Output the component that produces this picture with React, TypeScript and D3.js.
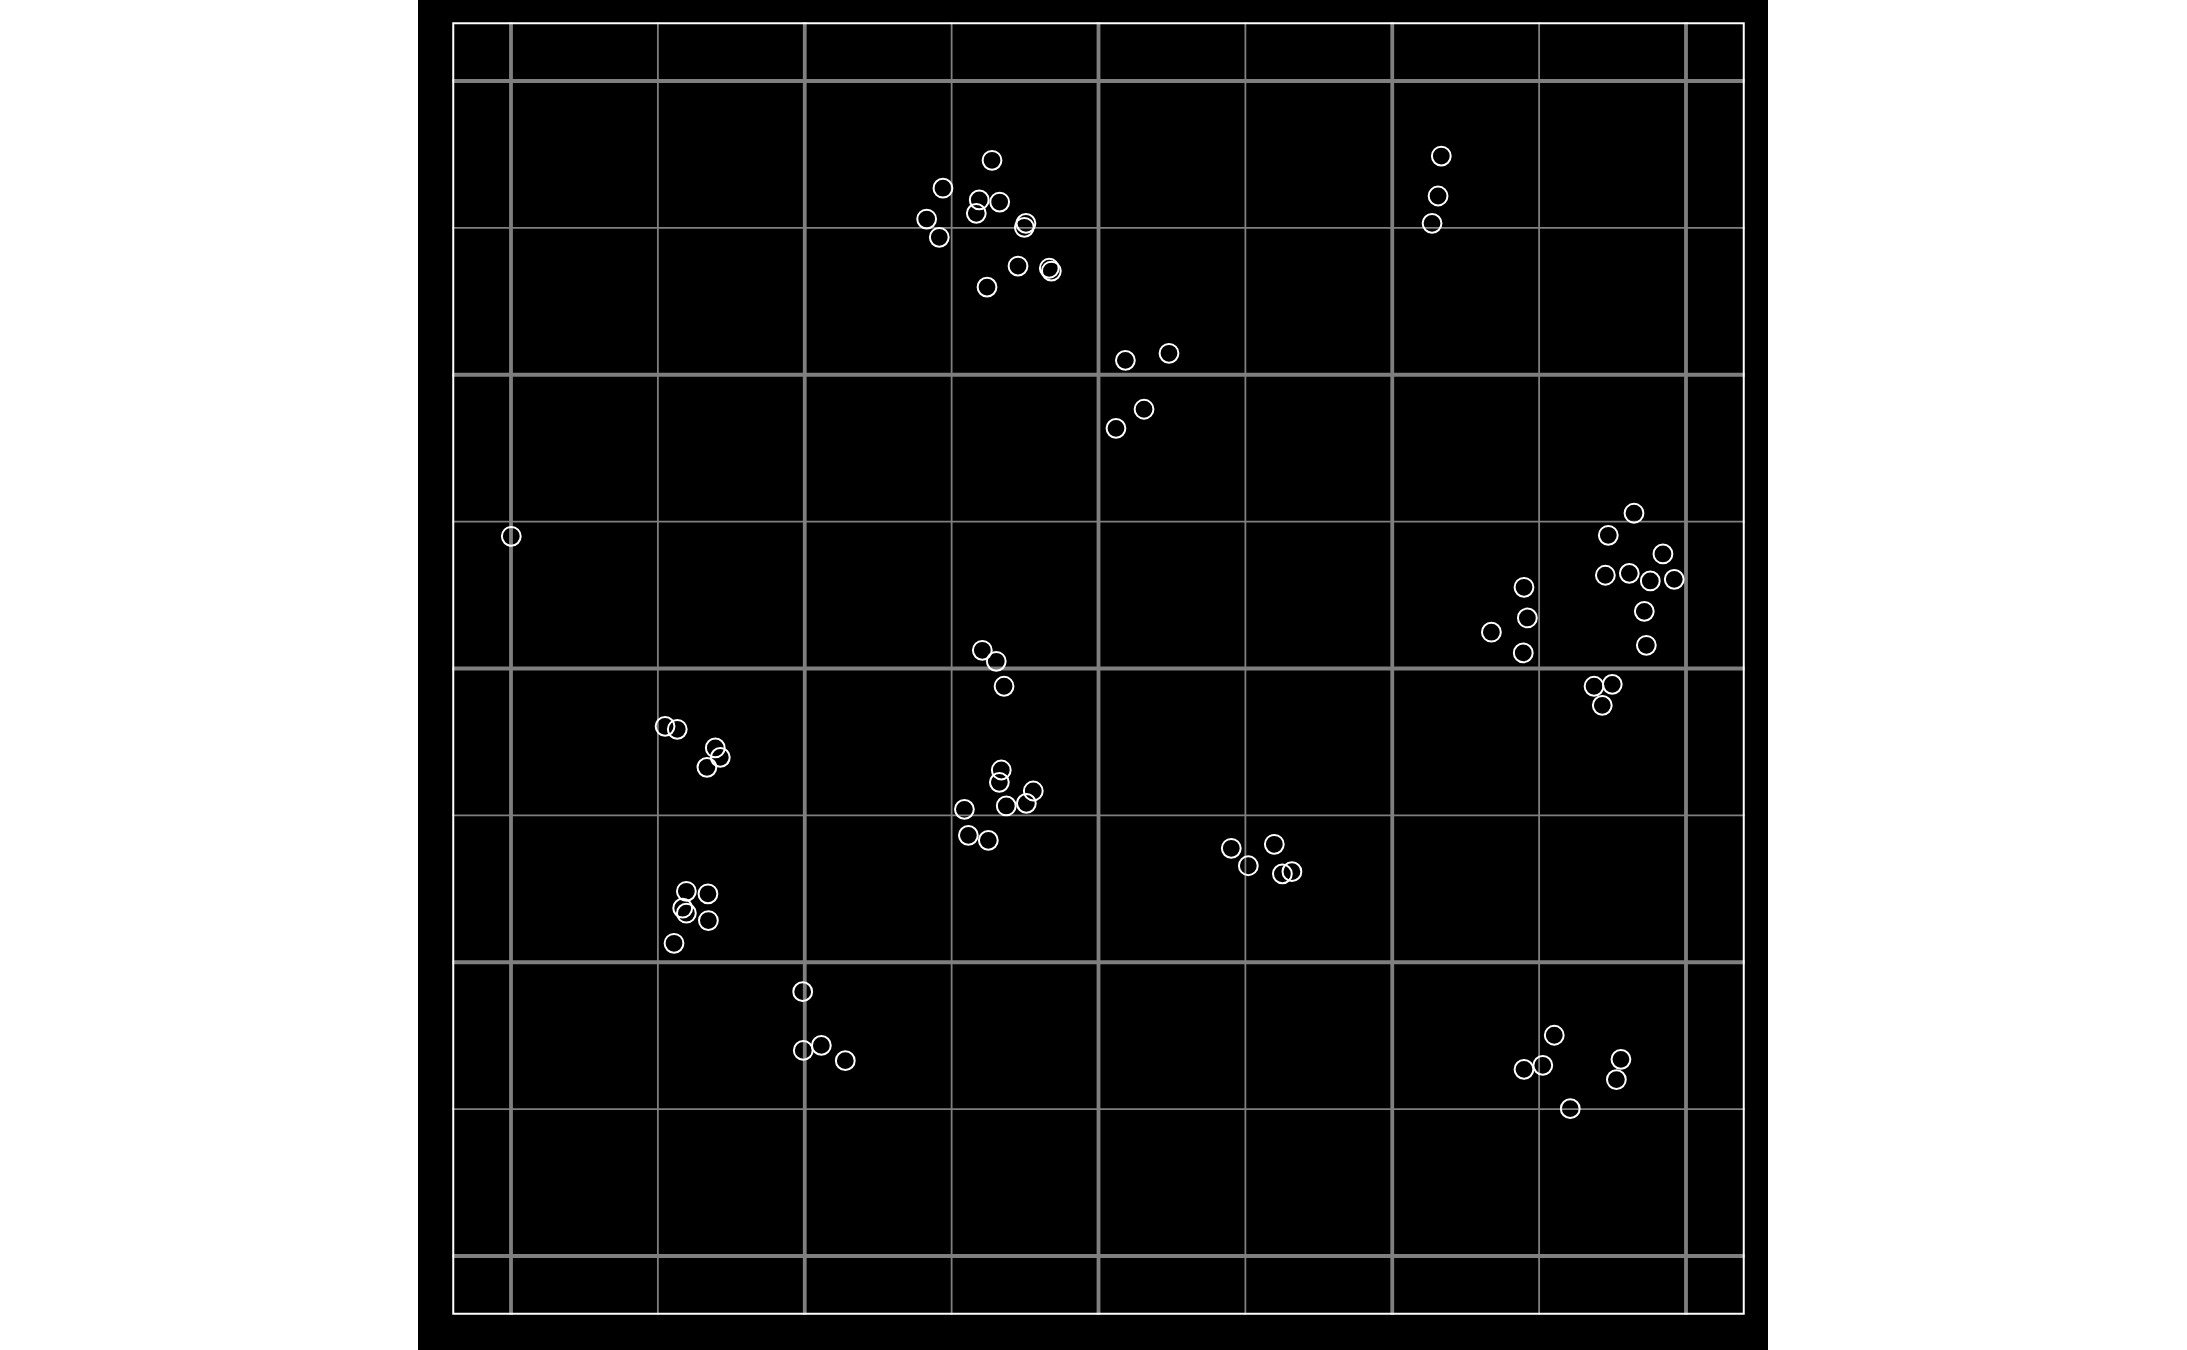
import React from "react";
import * as d3 from "d3";

// point positions (data units, 0..8 on both axes)
const xValues = [
  3.275, 2.941, 3.188, 3.327, 3.168, 2.83, 3.506, 3.495, 2.916, 3.452, 3.665, 3.679, 3.241,
  7.646, 7.471, 7.843, 7.451, 7.614, 7.757, 7.92, 6.897, 6.92, 6.675, 6.892, 7.716, 7.73, 7.374, 7.498, 7.43,
  1.049, 1.132, 1.391, 1.425, 1.334, 1.194, 1.341, 1.169, 1.194, 1.344, 1.11,
  6.334, 6.312, 6.271,
  4.183, 4.48, 4.31, 4.119,
  3.209, 3.304, 3.357,
  3.338, 3.325, 3.556, 3.509, 3.372, 3.087, 3.114, 3.25,
  4.904, 5.197, 5.02, 5.252, 5.317,
  1.986, 1.99, 2.113, 2.276,
  7.103, 7.025, 6.897, 7.557, 7.526, 7.212,
  0.002,
];

const yValues = [
  7.46, 7.27, 7.19, 7.176, 7.099, 7.06, 7.031, 7.004, 6.936, 6.74, 6.725, 6.706, 6.597,
  5.057, 4.907, 4.78, 4.635, 4.648, 4.596, 4.607, 4.553, 4.344, 4.247, 4.106, 4.389, 4.158, 3.879, 3.892, 3.749,
  3.606, 3.586, 3.459, 3.395, 3.327, 2.483, 2.466, 2.368, 2.334, 2.284, 2.129,
  7.489, 7.217, 7.031,
  6.098, 6.146, 5.765, 5.635,
  4.124, 4.049, 3.879,
  3.309, 3.225, 3.166, 3.082, 3.064, 3.041, 2.864, 2.83,
  2.776, 2.803, 2.657, 2.602, 2.617,
  1.8, 1.4, 1.434, 1.33,
  1.503, 1.298, 1.271, 1.339, 1.201, 1.003,
  4.9,
];

const majorTicks = [0, 2, 4, 6, 8];
const minorTicks = [1, 3, 5, 7];

export default function App() {
  const width = 2187;
  const height = 1350;

  const x = d3.scaleLinear().domain([-0.4, 8.4]).range([452.25, 1744.75]);
  const y = d3.scaleLinear().domain([-0.4, 8.4]).range([1314.75, 22.25]);

  const [x0, x1] = x.range();
  const [y0, y1] = y.range();

  const points = d3.zip(xValues, yValues);

  return (
    <svg
      width={width}
      height={height}
      style={{ position: "absolute", left: 0, top: 0, display: "block" }}
    >
      <rect x={0} y={0} width={width} height={height} fill="#ffffff" />
      <rect x={418} y={0} width={1350} height={height} fill="#000000" />

      {/* minor grid */}
      <g stroke="#7f7f7f" strokeWidth={1.8}>
        {minorTicks.map(t => (
          <line key={"vx" + t} x1={x(t)} x2={x(t)} y1={y0} y2={y1} />
        ))}
        {minorTicks.map(t => (
          <line key={"hy" + t} x1={x0} x2={x1} y1={y(t)} y2={y(t)} />
        ))}
      </g>

      {/* major grid */}
      <g stroke="#7f7f7f" strokeWidth={3.8}>
        {majorTicks.map(t => (
          <line key={"VX" + t} x1={x(t)} x2={x(t)} y1={y0} y2={y1} />
        ))}
        {majorTicks.map(t => (
          <line key={"HY" + t} x1={x0} x2={x1} y1={y(t)} y2={y(t)} />
        ))}
      </g>

      {/* panel border */}
      <rect
        x={x0 + 1}
        y={y1 + 1}
        width={x1 - x0 - 2}
        height={y0 - y1 - 2}
        fill="none"
        stroke="#ffffff"
        strokeWidth={2}
      />

      <g fill="none" stroke="#ffffff" strokeWidth={2}>
        {points.map(([px, py], i) => (
          <circle key={i} cx={x(px)} cy={y(py)} r={9.4} />
        ))}
      </g>
    </svg>
  );
}
